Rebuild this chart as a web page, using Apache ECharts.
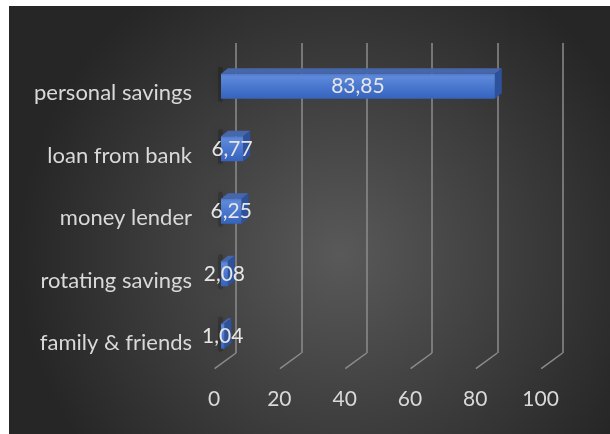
<!DOCTYPE html>
<html><head><meta charset="utf-8">
<script src="https://cdn.jsdelivr.net/npm/echarts@6/dist/echarts.min.js"></script>
<style>html,body{margin:0;padding:0;background:#fff}#c{width:610px;height:434px}</style>
</head><body><div id="c"></div>
<script>
const categories = ['personal savings', 'loan from bank', 'money lender', 'rotating savings', 'family & friends'];
const values = [83.85, 6.77, 6.25, 2.08, 1.04];
const valueLabels = ['83,85', '6,77', '6,25', '2,08', '1,04'];
const ticks = [0, 20, 40, 60, 80, 100];

const FONT = 'Lato';
const W = 326.6;
const chart = echarts.init(document.getElementById('c'));
const barData = values.map((v, i) => [v, i, valueLabels[i]]);

chart.setOption({
  backgroundColor: '#ffffff',
  animation: false,
  graphic: [{
    type: 'rect', z: -100, silent: true,
    shape: {x: 9, y: 6, width: 601, height: 428},
    style: {fill: {type: 'radial', x: 0.55, y: 0.58, r: 0.75,
      colorStops: [{offset: 0, color: '#595959'}, {offset: 1, color: '#262626'}]}}
  }],
  grid: [
    {left: 236, top: 43, width: W, height: 310},
    {left: 221, top: 55, width: W, height: 312.5},
    {left: 214, top: 62, width: W, height: 312.5}
  ],
  xAxis: [
    {gridIndex: 0, type: 'value', min: 0, max: 100, interval: 20,
      axisLine: {show: false}, axisTick: {show: false}, axisLabel: {show: false},
      splitLine: {show: true, lineStyle: {color: '#8c8c8c', width: 1.5}}},
    {gridIndex: 1, type: 'value', min: 0, max: 100, interval: 20, show: false},
    {gridIndex: 2, type: 'value', min: 0, max: 100, interval: 20,
      axisLine: {show: false}, axisTick: {show: false}, splitLine: {show: false},
      axisLabel: {color: '#d9d9d9', fontFamily: FONT, fontSize: 21, margin: 14}}
  ],
  yAxis: [
    {gridIndex: 0, type: 'value', min: 0, max: 1, show: false},
    {gridIndex: 1, type: 'category', data: categories, inverse: true, show: false},
    {gridIndex: 2, type: 'category', data: categories, inverse: true,
      axisLine: {show: false}, axisTick: {show: false}, splitLine: {show: false},
      axisLabel: {color: '#d9d9d9', fontFamily: FONT, fontSize: 22, margin: 22}}
  ],
  series: [
    {
      type: 'custom', xAxisIndex: 0, yAxisIndex: 0, silent: true, z: 1,
      data: ticks.map(t => [t, 0]),
      renderItem: function (params, api) {
        const p = api.coord([api.value(0), 0]);
        return {type: 'line', shape: {x1: p[0], y1: p[1], x2: p[0] - 21.4, y2: p[1] + 15.7},
          style: {stroke: '#8c8c8c', lineWidth: 1.5}};
      }
    },
    {
      type: 'custom', xAxisIndex: 1, yAxisIndex: 1, silent: true, z: 3,
      data: barData,
      renderItem: function (params, api) {
        const v = api.value(0), idx = api.value(1);
        const s = api.coord([0, idx]);
        const e = api.coord([v, idx]);
        const h = api.size([0, 1])[1] * 0.4;
        const x0 = s[0], y0 = s[1] - h / 2, w = e[0] - s[0];
        const dx = 7, dy = 5.5;
        return {type: 'group', children: [
          {type: 'rect', shape: {x: x0 - 3, y: y0 - 7, width: 5, height: h + 10, r: 2},
            style: {fill: 'rgba(0,0,0,0.18)', shadowColor: 'rgba(0,0,0,0.95)', shadowBlur: 12}},
          {type: 'polygon', shape: {points: [[x0, y0], [x0 + w, y0], [x0 + w + dx, y0 - dy], [x0 + dx, y0 - dy]]},
            style: {fill: '#4767ad'}},
          {type: 'polygon', shape: {points: [[x0 + w, y0], [x0 + w + dx, y0 - dy], [x0 + w + dx, y0 + h - dy], [x0 + w, y0 + h]]},
            style: {fill: '#2d519a'}},
          {type: 'rect', shape: {x: x0, y: y0, width: w, height: h},
            style: {fill: {type: 'linear', x: 0, y: 0, x2: 0, y2: 1, colorStops: [
              {offset: 0, color: '#4d79cc'}, {offset: 0.12, color: '#5e89da'},
              {offset: 0.5, color: '#4a77cf'}, {offset: 1, color: '#3563bd'}]}}},
          {type: 'text', x: x0 + w / 2, y: s[1],
            style: {text: api.value(2), fill: '#e6e6e6', font: '21px ' + FONT, align: 'center', verticalAlign: 'middle'}}
        ]};
      }
    }
  ]
});
</script></body></html>
